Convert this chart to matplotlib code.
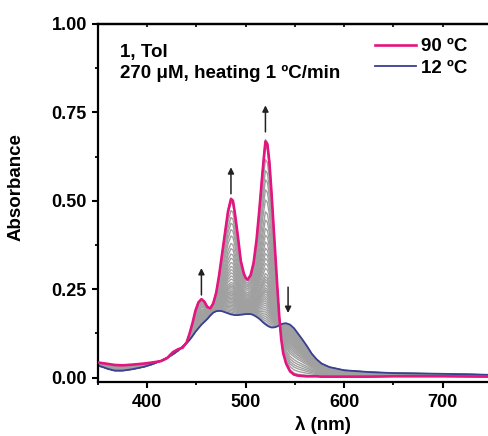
import numpy as np
import matplotlib
matplotlib.use('Agg')
import matplotlib.pyplot as plt
from matplotlib.ticker import MultipleLocator

plt.rcParams['font.family'] = ['Liberation Sans', 'DejaVu Sans']
plt.rcParams['font.weight'] = 'bold'

# Spectra (wavelength in nm, absorbance)
wl = [350, 355, 360, 367, 375, 385, 397, 405, 414, 420, 426, 431, 436, 440, 443,
      446, 449, 452, 455, 458, 461, 464, 467, 470, 473, 476, 479, 482, 485, 487,
      489, 492, 495, 498, 500, 502, 505, 508, 511, 514, 517, 519, 520, 522, 524,
      526, 528, 530, 532, 534, 536, 538, 541, 545, 549, 553, 557, 562, 567, 572,
      577, 585, 600, 625, 650, 700, 750]

abs_90 = [0.043, 0.041, 0.039, 0.036, 0.035, 0.037, 0.040, 0.043, 0.047, 0.055,
          0.072, 0.080, 0.085, 0.100, 0.125, 0.155, 0.190, 0.213, 0.222, 0.215,
          0.200, 0.196, 0.210, 0.240, 0.290, 0.350, 0.410, 0.470, 0.505, 0.500,
          0.465, 0.400, 0.330, 0.295, 0.282, 0.277, 0.290, 0.325, 0.390, 0.480,
          0.580, 0.640, 0.668, 0.660, 0.610, 0.530, 0.440, 0.350, 0.260, 0.175,
          0.110, 0.070, 0.040, 0.018, 0.009, 0.006, 0.005, 0.004, 0.004, 0.004,
          0.003, 0.003, 0.003, 0.003, 0.004, 0.004, 0.003]

abs_12 = [0.034, 0.030, 0.025, 0.020, 0.020, 0.024, 0.031, 0.038, 0.048, 0.056,
          0.066, 0.076, 0.088, 0.098, 0.107, 0.118, 0.130, 0.140, 0.150, 0.158,
          0.166, 0.176, 0.184, 0.188, 0.189, 0.188, 0.185, 0.182, 0.179, 0.178,
          0.177, 0.177, 0.178, 0.179, 0.180, 0.180, 0.180, 0.177, 0.172, 0.166,
          0.158, 0.153, 0.151, 0.147, 0.144, 0.142, 0.142, 0.143, 0.145, 0.148,
          0.151, 0.153, 0.154, 0.150, 0.140, 0.125, 0.110, 0.090, 0.068, 0.052,
          0.040, 0.030, 0.021, 0.016, 0.013, 0.011, 0.008]

# fraction of the way from the 12 C to the 90 C spectrum for each grey trace
# (read from the 520 nm peak heights)
grey_frac = [1.01, 0.995, 0.97, 0.90, 0.84, 0.79, 0.735, 0.68, 0.615, 0.57,
             0.524, 0.487, 0.45, 0.416, 0.387, 0.36, 0.333, 0.306, 0.278, 0.26,
             0.245, 0.232, 0.215, 0.2, 0.188, 0.178, 0.165, 0.152, 0.14, 0.128,
             0.116, 0.104, 0.092, 0.08, 0.068, 0.056, 0.044, 0.032, 0.02, 0.008]

wl = np.array(wl)
a90 = np.array(abs_90)
a12 = np.array(abs_12)

fig = plt.figure(figsize=(4.89, 4.36), dpi=100)
ax = fig.add_axes([98 / 489, 1 - 381.6 / 436, 391 / 489, 357.6 / 436])

for f in grey_frac:
    ax.plot(wl, a12 + f * (a90 - a12), color='#a0a0a0', lw=1.0, zorder=1)

ax.plot(wl, a12, color='#3a3f92', lw=1.3, label='12 ºC', zorder=2)
ax.plot(wl, a90, color='#e5157f', lw=1.9, label='90 ºC', zorder=3)

# arrows
arrow = dict(arrowstyle='-|>', color='#222222', lw=1.1, mutation_scale=9,
             shrinkA=0, shrinkB=0)
ax.annotate('', xy=(455, 0.31), xytext=(455, 0.234), arrowprops=arrow)
ax.annotate('', xy=(485, 0.595), xytext=(485, 0.52), arrowprops=arrow)
ax.annotate('', xy=(520, 0.77), xytext=(520, 0.695), arrowprops=arrow)
ax.annotate('', xy=(543, 0.183), xytext=(543, 0.256), arrowprops=arrow)

ax.set_xlim(350, 747)
ax.set_ylim(-0.011, 1.0)

ax.xaxis.set_major_locator(MultipleLocator(100))
ax.xaxis.set_minor_locator(MultipleLocator(50))
ax.yaxis.set_major_locator(MultipleLocator(0.25))
ax.yaxis.set_minor_locator(MultipleLocator(0.125))
ax.yaxis.set_major_formatter(plt.FuncFormatter(lambda v, p: f'{v:.2f}'))

ax.tick_params(which='major', direction='out', length=4, width=1.5,
               labelsize=13, pad=4)
ax.tick_params(which='minor', direction='out', length=2.5, width=1.3)
ax.tick_params(axis='x', which='major', pad=5)

for s in ['left', 'bottom', 'top']:
    ax.spines[s].set_linewidth(1.6)
ax.spines['right'].set_visible(False)

# small inward ticks on the top edge
top = ax.secondary_xaxis('top')
top.set_xticks([400, 450, 500, 550, 600, 650, 700])
top.tick_params(direction='in', length=2.5, width=1.2, labeltop=False)
top.spines['top'].set_linewidth(1.6)

ax.set_ylabel('Absorbance', fontsize=13.5, fontweight='bold')
ax.yaxis.set_label_coords(-0.187, 0.544)
ax.set_xlabel('λ (nm)', fontsize=13.5, fontweight='bold')
ax.xaxis.set_label_coords(0.575, -0.096)

ax.text(0.056, 0.908, '1, Tol', transform=ax.transAxes, fontsize=13.5,
        fontweight='bold', va='baseline')
ax.text(0.056, 0.849, '270 μM, heating 1 ºC/min', transform=ax.transAxes,
        fontsize=13.5, fontweight='bold', va='baseline')

h, l = ax.get_legend_handles_labels()
ax.legend(h[::-1], l[::-1], loc='upper left', bbox_to_anchor=(0.708, 0.96),
          frameon=False, fontsize=13.5, handlelength=2.2, handletextpad=0.25,
          labelspacing=0.22, borderpad=0, borderaxespad=0)

fig.savefig('out.png', dpi=100)
